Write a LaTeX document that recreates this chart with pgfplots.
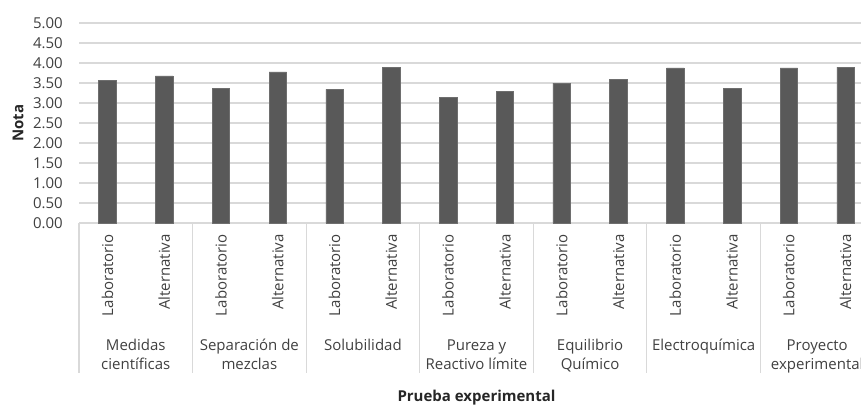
\documentclass[border=0pt]{standalone}
\usepackage{fontspec}
\setmainfont{Open Sans}
\usepackage{pgfplots}
\pgfplotsset{compat=1.18}
\definecolor{barc}{HTML}{595959}
\definecolor{barl}{HTML}{6E6E6E}
\definecolor{gridc}{HTML}{D9D9D9}
\definecolor{txt}{HTML}{404040}
\newcommand\cf{\fontsize{15}{18}\selectfont}
\begin{document}
\begin{tikzpicture}
\path[use as bounding box] (0,0) rectangle (861pt,405pt);
\clip (0,0) rectangle (861pt,405pt);
\begin{axis}[
  at={(79pt,182pt)}, anchor=south west,
  scale only axis, width=795pt, height=200pt,
  xmin=-0.5, xmax=13.5, ymin=0, ymax=5,
  ybar, bar width=17.5pt,
  axis y line*=left, y axis line style={draw=none},
  axis x line*=bottom, x axis line style={draw=gridc, line width=1.2pt},
  ymajorgrids, grid style={draw=gridc, line width=1.2pt},
  ytick={0,0.5,...,5},
  major tick length=0pt,
  yticklabel style={font=\cf, text=txt, anchor=east, inner sep=0pt, xshift=-16pt,
    /pgf/number format/.cd, fixed, fixed zerofill, precision=2, assume math mode=true},
  xtick={0,...,13},
  xticklabels={Laboratorio,Alternativa,Laboratorio,Alternativa,Laboratorio,Alternativa,Laboratorio,Alternativa,Laboratorio,Alternativa,Laboratorio,Alternativa,Laboratorio,Alternativa},
  xticklabel style={font=\cf, text=txt, rotate=90, anchor=east, inner sep=0pt, xshift=-11pt},
  ylabel={Nota},
  every axis y label/.style={at={(axis description cs:0,0.5)}, rotate=90, anchor=center, yshift=61pt, font=\cf\bfseries, text=black!85},
  xlabel={Prueba experimental},
  every axis x label/.style={at={(axis description cs:0.5,0)}, anchor=base, yshift=-178pt, font=\cf\bfseries, text=black!85},
  clip=false,
]
\addplot[fill=barc, draw=barl, line width=0.5pt] coordinates {
  (0,3.57) (1,3.68) (2,3.36) (3,3.78) (4,3.34) (5,3.89) (6,3.15)
  (7,3.29) (8,3.50) (9,3.59) (10,3.88) (11,3.36) (12,3.88) (13,3.90)};
\foreach \k in {-0.5,1.5,3.5,5.5,7.5,9.5,11.5,13.5}{
  \edef\tmp{\noexpand\draw[gridc, line width=1.2pt] (axis cs:\k,0) -- ++(0pt,-150pt);}\tmp
}
\tikzset{grp/.style={font=\cf, text=txt, anchor=base, inner sep=0pt}}
\node[grp] at ([yshift=-127pt]axis cs:0.5,0) {Medidas};
\node[grp] at ([yshift=-146pt]axis cs:0.5,0) {científicas};
\node[grp] at ([yshift=-127pt]axis cs:2.5,0) {Separación de};
\node[grp] at ([yshift=-146pt]axis cs:2.5,0) {mezclas};
\node[grp] at ([yshift=-127pt]axis cs:4.5,0) {Solubilidad};
\node[grp] at ([yshift=-127pt]axis cs:6.5,0) {Pureza y};
\node[grp] at ([yshift=-146pt]axis cs:6.5,0) {Reactivo límite};
\node[grp] at ([yshift=-127pt]axis cs:8.5,0) {Equilibrio};
\node[grp] at ([yshift=-146pt]axis cs:8.5,0) {Químico};
\node[grp] at ([yshift=-127pt]axis cs:10.5,0) {Electroquímica};
\node[grp] at ([yshift=-127pt]axis cs:12.5,0) {Proyecto};
\node[grp] at ([yshift=-146pt]axis cs:12.5,0) {experimental};
\end{axis}
\end{tikzpicture}
\end{document}
